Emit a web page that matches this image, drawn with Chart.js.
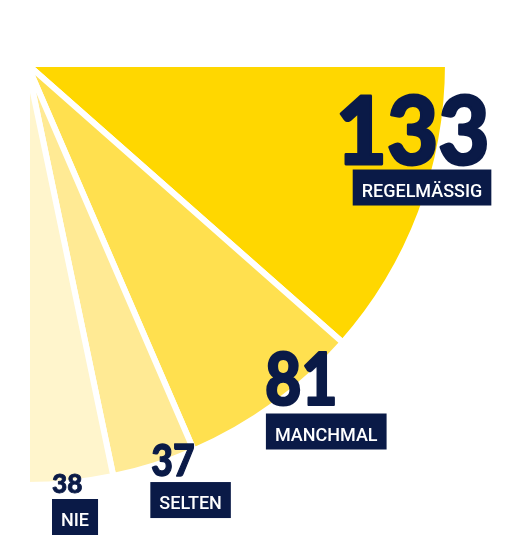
<!DOCTYPE html>
<html>
<head>
<meta charset="utf-8">
<script src="https://cdn.jsdelivr.net/npm/chart.js@4/dist/chart.umd.min.js"></script>
<style>
  html, body { margin: 0; padding: 0; background: #ffffff; }
  #wrap { width: 508px; height: 558px; position: relative; }
</style>
</head>
<body>
<div id="wrap"><canvas id="c"></canvas></div>
<script>
// ---- data ----
const categories = ['REGELMÄSSIG', 'MANCHMAL', 'SELTEN', 'NIE'];
const values = [133, 81, 37, 38];
const sliceColors = ['#FFD700', '#FFE04F', '#FFEA94', '#FFF5CC'];

// ---- label styling / placement (relative to each slice's trailing outer tip) ----
const navy = '#0A1A47';
const labelLayout = [
  { numDx: -7, numDy: -179, numSize: 94, numScaleX: 0.94, boxDx: 10, boxDy: -173 },
  { numDx: 71, numDy: -46, numSize: 73, numScaleX: 0.86, boxDx: 72, boxDy: -37 },
  { numDx: 38, numDy: 0, numSize: 43, numScaleX: 0.87, boxDx: 37, boxDy: 6 },
  { numDx: 25, numDy: 8, numSize: 27, numScaleX: 0.97, boxDx: 25, boxDy: 14 }
];

const labelPlugin = {
  id: 'sliceLabels',
  afterDatasetsDraw(chart) {
    const ctx = chart.ctx;
    const meta = chart.getDatasetMeta(0);
    meta.data.forEach((arc, i) => {
      const p = arc.getProps(['x', 'y', 'endAngle', 'outerRadius'], true);
      const ax = p.x + Math.cos(p.endAngle) * p.outerRadius;
      const ay = p.y + Math.sin(p.endAngle) * p.outerRadius;
      const L = labelLayout[i];
      ctx.save();
      // number (extra-heavy: fill + same-colour stroke)
      ctx.fillStyle = navy;
      ctx.strokeStyle = navy;
      ctx.lineJoin = 'round';
      ctx.textBaseline = 'alphabetic';
      ctx.textAlign = 'left';
      ctx.font = '900 ' + L.numSize + 'px Lato, "Open Sans", sans-serif';
      ctx.save();
      ctx.translate(ax + L.numDx, ay + L.numDy);
      ctx.scale(L.numScaleX, 1);
      ctx.lineWidth = L.numSize * 0.03;
      ctx.fillText(String(values[i]), 0, 0);
      ctx.strokeText(String(values[i]), 0, 0);
      ctx.restore();
      // box
      ctx.font = '500 18px Roboto, "Open Sans", sans-serif';
      const tw = ctx.measureText(categories[i]).width;
      const bx = ax + L.boxDx, by = ay + L.boxDy;
      const bw = tw + 18, bh = 36;
      ctx.fillStyle = navy;
      ctx.fillRect(bx, by, bw, bh);
      ctx.fillStyle = '#ffffff';
      ctx.fillText(categories[i], bx + 9, by + 27);
      ctx.restore();
    });
  }
};

new Chart(document.getElementById('c'), {
  type: 'pie',
  data: {
    labels: categories,
    datasets: [{
      data: values,
      backgroundColor: sliceColors,
      borderColor: '#ffffff',
      borderWidth: 6,
      hoverBorderWidth: 6,
      hoverOffset: 0
    }]
  },
  options: {
    responsive: true,
    maintainAspectRatio: false,
    devicePixelRatio: 1,
    animation: false,
    rotation: 90,
    circumference: 90,
    events: [],
    layout: { padding: { left: 24, top: 61, right: 57, bottom: 70 } },
    plugins: {
      legend: { display: false },
      tooltip: { enabled: false }
    }
  },
  plugins: [labelPlugin]
});
</script>
</body>
</html>
